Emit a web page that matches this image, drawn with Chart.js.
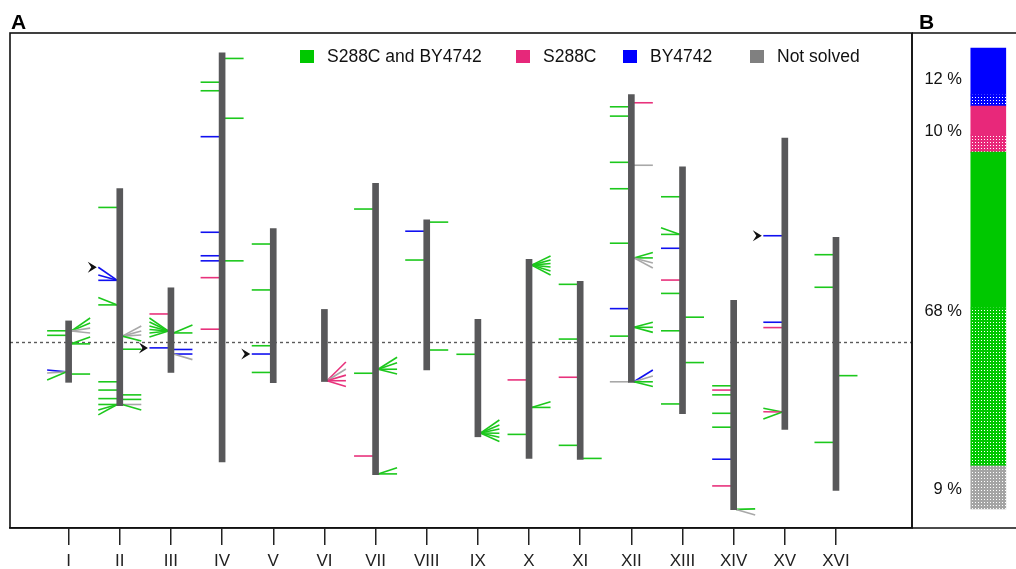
<!DOCTYPE html>
<html>
<head>
<meta charset="utf-8">
<script src="https://cdn.jsdelivr.net/npm/chart.js@4.4.1/dist/chart.umd.min.js"></script>
<style>
  html, body { margin: 0; padding: 0; background: #fff; }
  #wrap { position: relative; width: 1016px; height: 569px; overflow: hidden; }
  #chartA { position: absolute; left: 0; top: 0; }
  #chartB { position: absolute; left: 911px; top: 0; }
</style>
</head>
<body>
<div id="wrap">
  <canvas id="chartA" width="914" height="569"></canvas>
  <canvas id="chartB" width="105" height="569"></canvas>
</div>
<script>
// хромосомы дрожжей (kb)
const chromNames = ['I','II','III','IV','V','VI','VII','VIII','IX','X','XI','XII','XIII','XIV','XV','XVI'];
const chromLength = [230, 813, 317, 1532, 577, 270, 1091, 563, 440, 746, 667, 1078, 924, 784, 1091, 948];
const centromere = [151, 238, 114, 449, 152, 148, 497, 105, 355, 436, 440, 151, 268, 628, 327, 556];

// классы: 0 = S288C and BY4742, 1 = S288C, 2 = BY4742, 3 = Not solved
const classNames = ['S288C and BY4742', 'S288C', 'BY4742', 'Not solved'];

// [хромосома, сторона, позиция kb, конец линии kb, класс]
const events = [
  // I
  [1,'L',193,193,0],[1,'L',176,176,0],
  [1,'R',192,241,0],[1,'R',192,222,0],[1,'R',192,203,3],[1,'R',192,185,3],
  [1,'R',144,170,0],[1,'R',144,144,0],
  [1,'L',39,46,2],[1,'L',39,35,3],[1,'L',39,9,0],
  [1,'R',31,31,0],
  // II
  [2,'L',742,742,0],
  [2,'L',469,518,2],[2,'L',469,489,2],[2,'L',469,469,2],
  [2,'L',377,405,0],[2,'L',377,377,0],
  [2,'R',260,298,3],[2,'R',260,279,3],[2,'R',260,264,3],[2,'R',260,242,0],
  [2,'R',211,211,0],
  [2,'L',89,89,0],[2,'L',58,58,0],[2,'L',26,26,0],
  [2,'L',4,4,0],[2,'L',4,-17,0],[2,'L',4,-35,0],
  [2,'R',40,40,0],[2,'R',23,23,0],
  [2,'R',4,4,3],[2,'R',4,-17,0],
  // III
  [3,'L',219,219,1],
  [3,'L',155,204,0],[3,'L',155,189,0],[3,'L',155,174,0],[3,'L',155,161,0],[3,'L',155,148,0],[3,'L',155,133,0],
  [3,'R',148,178,0],[3,'R',148,148,0],
  [3,'L',92,92,2],
  [3,'R',86,86,2],
  [3,'R',69,69,2],[3,'R',69,48,3],
  // IV
  [4,'R',1511,1511,0],[4,'L',1422,1422,0],[4,'L',1390,1390,0],[4,'R',1287,1287,0],
  [4,'L',1218,1218,2],[4,'L',860,860,2],[4,'L',772,772,2],[4,'L',753,753,2],
  [4,'R',753,753,0],[4,'L',690,690,1],[4,'L',497,497,1],
  // V
  [5,'L',519,519,0],[5,'L',347,347,0],[5,'L',138,138,0],[5,'L',107,107,2],[5,'L',38,38,0],
  // VI
  [6,'R',3,73,1],[6,'R',3,47,3],[6,'R',3,24,1],[6,'R',3,3,1],[6,'R',3,-19,1],
  // VII
  [7,'L',995,995,0],
  [7,'R',395,440,0],[7,'R',395,419,0],[7,'R',395,395,0],[7,'R',395,377,0],
  [7,'L',380,380,0],[7,'L',70,70,1],
  [7,'R',3,26,0],[7,'R',3,3,0],
  // VIII
  [8,'R',554,554,0],[8,'L',520,520,2],[8,'L',412,412,0],[8,'R',75,75,0],
  // IX
  [9,'L',309,309,0],
  [9,'R',14,63,0],[9,'R',14,44,0],[9,'R',14,29,0],[9,'R',14,13,0],[9,'R',14,-2,0],[9,'R',14,-18,0],
  // X
  [10,'R',724,758,0],[10,'R',724,743,0],[10,'R',724,730,0],[10,'R',724,717,0],[10,'R',724,702,0],[10,'R',724,687,0],
  [10,'L',294,294,1],
  [10,'R',191,212,0],[10,'R',191,191,0],
  [10,'L',90,90,0],
  // XI
  [11,'L',656,656,0],[11,'L',451,451,0],[11,'L',308,308,1],[11,'L',53,53,0],[11,'R',4,4,0],
  // XII
  [12,'R',1047,1047,1],[12,'L',1032,1032,0],[12,'L',997,997,0],[12,'L',824,824,0],[12,'R',813,813,3],
  [12,'L',725,725,0],[12,'L',521,521,0],
  [12,'R',466,486,0],[12,'R',466,466,0],[12,'R',466,447,3],[12,'R',466,428,3],
  [12,'L',276,276,2],
  [12,'R',206,225,0],[12,'R',206,206,0],[12,'R',206,187,0],
  [12,'L',173,173,0],
  [12,'L',2,2,3],
  [12,'R',2,46,2],[12,'R',2,24,3],[12,'R',2,2,0],[12,'R',2,-16,0],
  // XIII
  [13,'L',812,812,0],
  [13,'L',671,696,0],[13,'L',671,671,0],
  [13,'L',619,619,2],[13,'L',500,500,1],[13,'L',450,450,0],[13,'R',361,361,0],
  [13,'L',310,310,0],[13,'R',191,191,0],[13,'L',36,36,0],
  // XIV
  [14,'L',464,464,0],[14,'L',448,448,1],[14,'L',430,430,0],[14,'L',361,361,0],
  [14,'L',309,309,0],[14,'L',189,189,2],[14,'L',89,89,1],
  [14,'R',1,3,0],[14,'R',1,-20,3],
  // XV
  [15,'L',725,725,2],[15,'L',401,401,2],[15,'L',381,381,1],
  [15,'L',65,79,0],[15,'L',65,66,1],[15,'L',65,39,0],
  // XVI
  [16,'L',883,883,0],[16,'L',761,761,0],[16,'R',430,430,0],[16,'L',180,180,0]
];

// стрелки у концов линий [хромосома, сторона, kb]
const arrowMarks = [[2,'L',518],[3,'L',92],[5,'L',107],[15,'L',725]];

// панель B, снизу вверх
const groupClass = [3, 0, 1, 2];
const groupPct = [9, 68, 10, 12];
const dottedPct = [9.3, 34.3, 3.7, 2.4];
const solidPct = [0, 33.8, 6.3, 10.2];

const FONT = '"Liberation Sans", Arial, Helvetica, sans-serif';
Chart.defaults.font.family = FONT;

const lineColors = ['#1cc81c', '#e8327c', '#1010f0', '#a8a8a8'];
const boxColors = ['#00c800', '#e6287a', '#0000ff', '#808080'];
const barColors = ['#00c800', '#e8287a', '#0000ff', '#a4a4a4'];

const panelA = {
  id: 'panelA',
  beforeDatasetsDraw(chart) {
    const { ctx, chartArea: a, scales: { x, y } } = chart;
    ctx.save();
    const y0 = Math.round(y.getPixelForValue(0)) + 0.5;
    ctx.strokeStyle = '#5a5a5a';
    ctx.lineWidth = 1.4;
    ctx.setLineDash([3, 3]);
    ctx.beginPath();
    ctx.moveTo(a.left, y0);
    ctx.lineTo(a.right, y0);
    ctx.stroke();
    ctx.setLineDash([]);
    ctx.lineWidth = 1.6;
    events.forEach(([c, side, base, tip, cls]) => {
      const s = side === 'L' ? -1 : 1;
      const cx = x.getPixelForValue(c);
      const cen = centromere[c - 1];
      ctx.strokeStyle = lineColors[cls];
      ctx.beginPath();
      ctx.moveTo(cx + s * 2.5, y.getPixelForValue(base - cen));
      ctx.lineTo(cx + s * 21.5, y.getPixelForValue(tip - cen));
      ctx.stroke();
    });
    ctx.restore();
  },
  afterDatasetsDraw(chart) {
    const { ctx, scales: { x, y } } = chart;
    ctx.save();
    ctx.fillStyle = '#111';
    arrowMarks.forEach(([c, side, kb]) => {
      const s = side === 'L' ? -1 : 1;
      const ex = x.getPixelForValue(c) + s * 22;
      const py = y.getPixelForValue(kb - centromere[c - 1]);
      ctx.beginPath();
      ctx.moveTo(ex - 1, py);
      ctx.lineTo(ex - 10, py - 5.5);
      ctx.lineTo(ex - 6.5, py);
      ctx.lineTo(ex - 10, py + 5.5);
      ctx.closePath();
      ctx.fill();
    });
    ctx.restore();
  },
  afterDraw(chart) {
    const { ctx, chartArea: a } = chart;
    ctx.save();
    ctx.strokeStyle = '#111';
    ctx.lineWidth = 1.6;
    ctx.strokeRect(a.left, a.top, a.right - a.left, a.bottom - a.top);
    ctx.fillStyle = '#000';
    ctx.font = 'bold 21px ' + FONT;
    ctx.textBaseline = 'alphabetic';
    ctx.fillText('A', 11, 29);
    // легенда
    const legendX = [300, 516, 623, 750];
    ctx.font = '17.5px ' + FONT;
    ctx.textBaseline = 'middle';
    classNames.forEach((name, i) => {
      ctx.fillStyle = boxColors[i];
      ctx.fillRect(legendX[i], 50, 14, 13);
      ctx.fillStyle = '#111';
      ctx.fillText(name, legendX[i] + 27, 57);
    });
    ctx.restore();
  }
};

let chromCanvas = document.getElementById('chartA').getContext('2d');
let chromChart = new Chart(chromCanvas, {
  type: 'bar',
  data: {
    datasets: [{
      data: chromNames.map((n, i) => ({ x: i + 1, y: [-centromere[i], chromLength[i] - centromere[i]] })),
      backgroundColor: '#58585a',
      borderWidth: 0,
      barThickness: 6
    }]
  },
  options: {
    responsive: false,
    animation: false,
    events: [],
    layout: { padding: { top: 33, left: 10, right: 2, bottom: 0 } },
    scales: {
      x: {
        type: 'linear',
        min: -0.146,
        max: 17.486,
        offset: false,
        afterBuildTicks: (s) => { s.ticks = chromNames.map((n, i) => ({ value: i + 1 })); },
        afterFit: (s) => { s.height = 41; },
        ticks: {
          callback: (v) => chromNames[v - 1],
          autoSkip: false,
          maxRotation: 0,
          padding: 6,
          color: '#222',
          font: { size: 17 }
        },
        grid: { drawOnChartArea: false, offset: false, tickLength: 17, color: '#222', lineWidth: 1.5 },
        border: { display: true, color: '#111', width: 1.5 }
      },
      y: {
        display: false,
        min: -696.6,
        max: 1157.3
      }
    },
    plugins: {
      legend: { display: false },
      tooltip: { enabled: false }
    }
  },
  plugins: [panelA]
});

// панель B
function dotPattern(color) {
  const c = document.createElement('canvas');
  c.width = 3; c.height = 3;
  const g = c.getContext('2d');
  g.fillStyle = color;
  g.fillRect(0, 0, 3, 3);
  g.fillStyle = '#ffffff';
  g.fillRect(1, 1, 1, 1);
  return g.createPattern(c, 'repeat');
}

const shareDatasets = [];
groupClass.forEach((c, g) => {
  shareDatasets.push({ data: [{ x: 0, y: dottedPct[g] }], backgroundColor: dotPattern(barColors[c]) });
  shareDatasets.push({ data: [{ x: 0, y: solidPct[g] }], backgroundColor: barColors[c] });
});
shareDatasets.forEach(d => { d.barThickness = 35; d.borderWidth = 0; });

const panelB = {
  id: 'panelB',
  afterDraw(chart) {
    const { ctx, chartArea: a, scales: { y } } = chart;
    ctx.save();
    ctx.strokeStyle = '#111';
    ctx.lineWidth = 1.6;
    ctx.beginPath();
    ctx.moveTo(a.left, a.top); ctx.lineTo(chart.width + 2, a.top);
    ctx.moveTo(a.left, a.top); ctx.lineTo(a.left, a.bottom);
    ctx.moveTo(a.left, a.bottom); ctx.lineTo(chart.width + 2, a.bottom);
    ctx.stroke();
    ctx.fillStyle = '#000';
    ctx.font = 'bold 21px ' + FONT;
    ctx.textBaseline = 'alphabetic';
    ctx.fillText('B', 8, 29);
    ctx.font = '16.5px ' + FONT;
    ctx.textAlign = 'right';
    ctx.textBaseline = 'middle';
    let acc = 0;
    groupPct.forEach((p, g) => {
      const lo = acc;
      acc += dottedPct[g] + solidPct[g];
      ctx.fillStyle = '#111';
      ctx.fillText(`${p} %`, 51, y.getPixelForValue((lo + acc) / 2) + 2);
    });
    ctx.restore();
  }
};

let shareCanvas = document.getElementById('chartB').getContext('2d');
let shareChart = new Chart(shareCanvas, {
  type: 'bar',
  data: { datasets: shareDatasets },
  options: {
    responsive: false,
    animation: false,
    events: [],
    layout: { padding: { top: 33, left: 1, right: 0, bottom: 41 } },
    scales: {
      x: { type: 'linear', display: false, stacked: true, offset: false, min: -76.3, max: 27.7 },
      y: { display: false, stacked: true, min: -4.12, max: 103.25 }
    },
    plugins: {
      legend: { display: false },
      tooltip: { enabled: false }
    }
  },
  plugins: [panelB]
});
</script>
</body>
</html>
